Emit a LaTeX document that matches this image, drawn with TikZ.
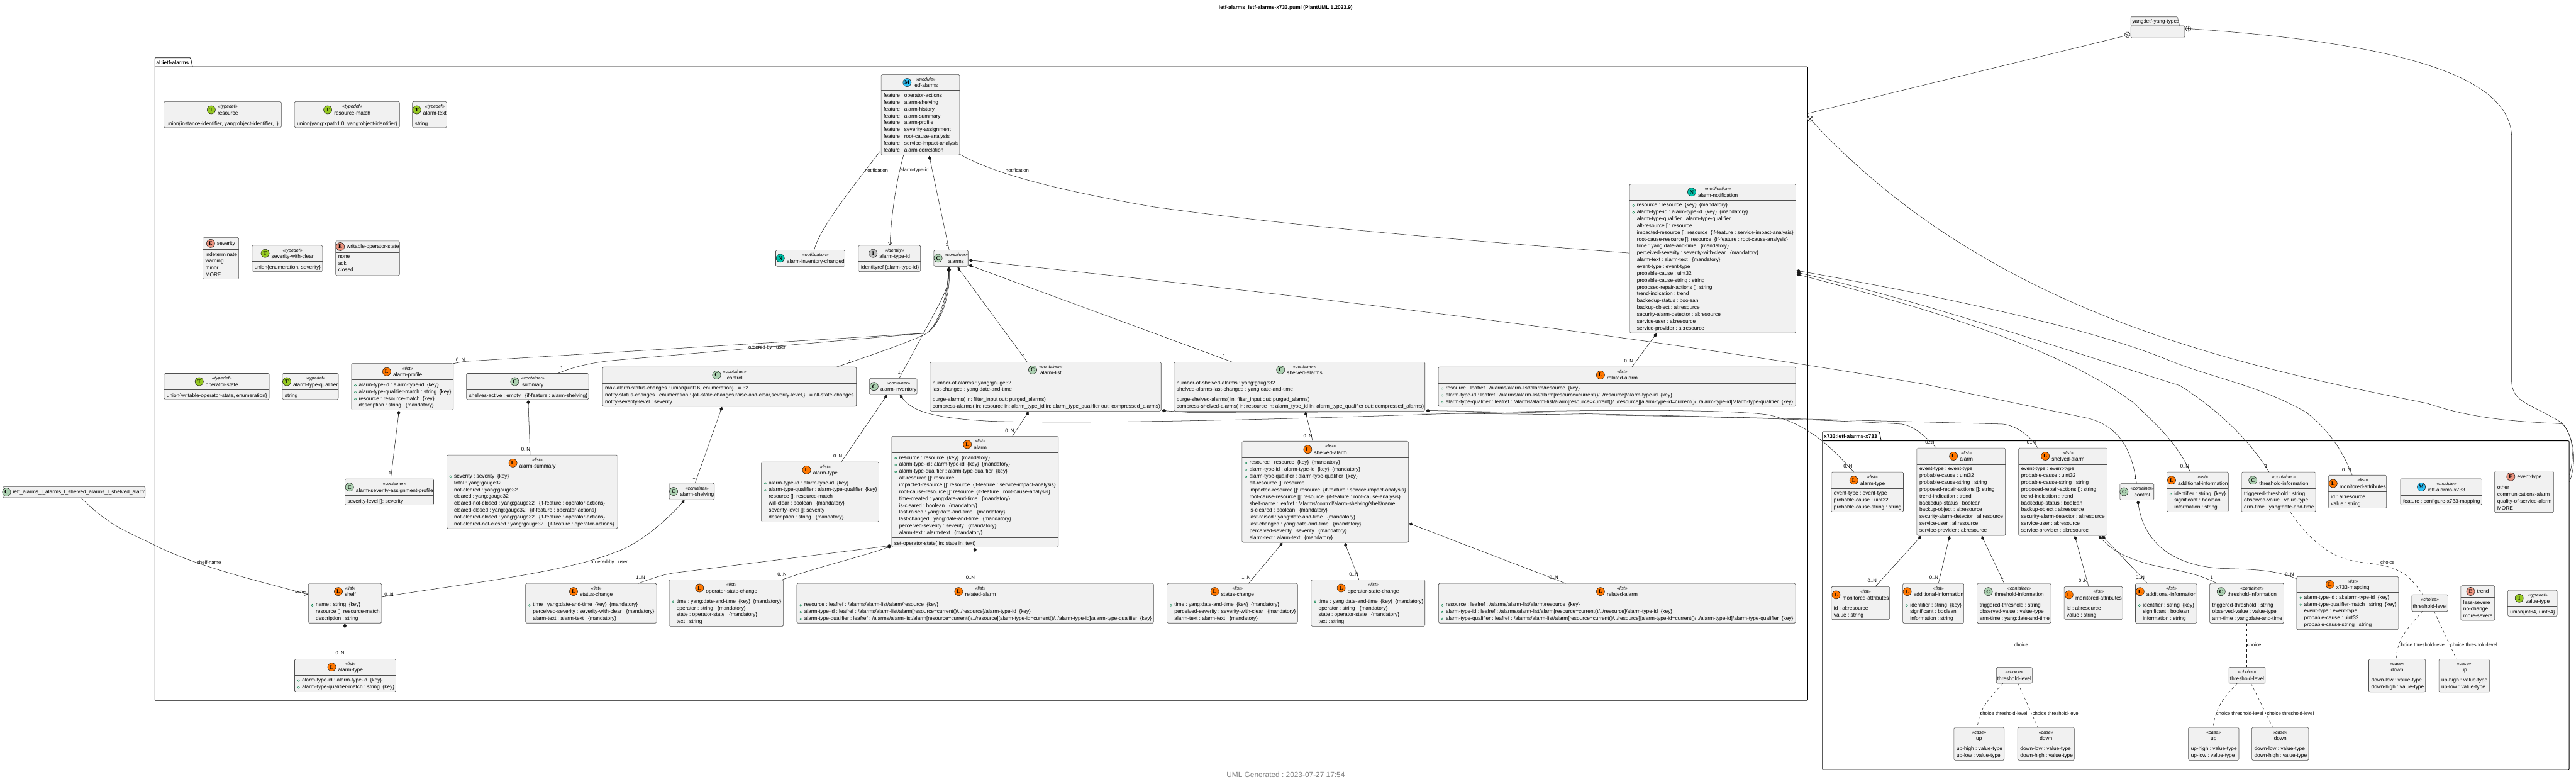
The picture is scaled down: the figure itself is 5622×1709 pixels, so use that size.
\documentclass[tikz,border=0pt]{standalone}
\usepackage{fontspec}
\usetikzlibrary{arrows.meta}
\setmainfont{Liberation Sans}
\newfontfamily\monofam{Liberation Serif}
\frenchspacing
\newcommand\nmf{\fontsize{11.4}{14.9}\selectfont}
\newcommand\stf{\fontsize{9.8}{12}\selectfont\itshape}
\newcommand\monof{\fontsize{12}{12}\selectfont\monofam\bfseries}
\definecolor{boxfill}{HTML}{F1F1F1}
\definecolor{edgec}{HTML}{181818}
\definecolor{bordc}{HTML}{505050}
\definecolor{keyg}{HTML}{038048}
\definecolor{icM}{HTML}{2FC3F8}
\definecolor{icE}{HTML}{EB937F}
\definecolor{icT}{HTML}{95C822}
\definecolor{icC}{HTML}{ADD1B2}
\definecolor{icL}{HTML}{FF7700}
\definecolor{icN}{HTML}{00C4AC}
\definecolor{icI}{HTML}{C0C0C0}
\newcounter{lbc}
\tikzset{
 cbox/.style={rectangle,draw=bordc,fill=boxfill,rounded corners=2.5pt,inner sep=0pt,line width=.8pt},
 divl/.style={draw=bordc,line width=.7pt},
 iconn/.style={circle,draw=edgec,line width=.7pt,minimum size=18pt,inner sep=0pt},
 nm/.style={anchor=base,inner sep=0pt,font=\nmf},
 st/.style={anchor=base,inner sep=0pt,font=\stf},
 memb/.style={anchor=north west,inner sep=0pt,align=left,font=\nmf,yshift=5.8pt,execute at begin node=\strut},
 keyc/.style={draw=keyg,line width=.6pt},
 conn/.style={draw=edgec,line width=.7pt,line join=round},
 comp/.style={conn,{Diamond[length=10pt,width=7pt]}-},
 arr/.style={conn,-{Straight Barb[length=6pt,width=8pt]}},
 dsh/.style={conn,dash pattern=on 5.7pt off 5.7pt},
 lbl/.style={inner sep=0pt,font=\fontsize{10.6}{12}\selectfont},
 pkgf/.style={rectangle,draw=black,line width=1.1pt,inner sep=0pt,rounded corners=1.5pt},
 pkgl/.style={anchor=base west,inner sep=0pt,font=\fontsize{11.4}{12}\selectfont\bfseries},
}
\newcommand\storec[3]{\expandafter\xdef\csname cx@#1\endcsname{#2}\expandafter\xdef\csname cy@#1\endcsname{#3}}
\newcommand\cls[9]{%
 \def\lid{#1}\def\lx{#2}%
 \pgfmathsetmacro\cw{#4-#2}\pgfmathsetmacro\chh{#5-#3}\pgfmathsetmacro\ccx{(#2+#4)/2}\pgfmathsetmacro\ccy{(#3+#5)/2}%
 \storec{#1}{\ccx}{\ccy}%
 \node[cbox,minimum width=\cw pt,minimum height=\chh pt] (#1) at (\ccx,\ccy) {};%
 \ifx\relax#6\relax \def\ldiv{#5}\else \def\ldiv{#6}\draw[divl] (#2,#6) -- (#4,#6);\fi
 \pgfmathsetmacro\hcy{(#3+\ldiv)/2}%
 \setbox0=\hbox{\pgfinterruptpicture\nmf #9\endpgfinterruptpicture}\setbox2=\hbox{\pgfinterruptpicture\stf #8\endpgfinterruptpicture}%
 \ifdim\wd0>\wd2 \dimen0=\wd0 \else \dimen0=\wd2 \fi
 \edef\twp{\the\dimen0}\pgfmathsetmacro\tw{\twp}%
 \ifx\relax#7\relax \edef\tcx{\ccx}\else
   \pgfmathsetmacro\icx{\ccx-(\tw+23)/2+9}\pgfmathsetmacro\tcx{\icx+14+\tw/2}%
   \node[iconn,fill=ic#7] (#1-i) at (\icx,\hcy) {\monof #7};\fi
 \ifx\relax#8\relax \node[nm] (#1-n) at (\tcx,\hcy+3.9) {#9};\else
   \node[st] (#1-s) at (\tcx,\hcy-3.5) {#8};\node[nm] (#1-n) at (\tcx,\hcy+10.7) {#9};\fi
}
\newcommand\mem[1]{\node[memb] (\lid-m) at (\lx+5.5,\ldiv+12) {#1};}
\newcommand\kmem[2]{\node[memb] (\lid-m) at (\lx+16,\ldiv+12) {#2};%
 \foreach \k in {1,...,#1}{\draw[keyc] ({\lx+8.5},{\ldiv+12+(\k-1)*14.9}) circle[radius=2.2pt];}}
\newcommand\meth[3]{\draw[divl] (\lx,#1) -- (#2,#1);\node[memb] (\lid-f) at (\lx+5.5,#1+12) {#3};}
\newcommand\lab[3]{\stepcounter{lbc}\node[lbl] (lb\arabic{lbc}) at (#1,#2) {#3};}
\newcommand\pts[6]{%
 \coordinate (S) at ([shift={({#2-\csname cx@#1\endcsname},{#3-\csname cy@#1\endcsname})}]#1.center);%
 \coordinate (T) at ([shift={({#5-\csname cx@#4\endcsname},{#6-\csname cy@#4\endcsname})}]#4.center);}
\newcommand\cmp[6]{\pts{#1}{#2}{#3}{#4}{#5}{#6}\draw[comp] (S) -- (T);}
\newcommand\pkg[8]{%
 \pgfmathsetmacro\cw{#5-#2}\pgfmathsetmacro\chh{#6-#4}\pgfmathsetmacro\ccx{(#2+#5)/2}\pgfmathsetmacro\ccy{(#4+#6)/2}%
 \storec{#1}{\ccx}{\ccy}%
 \node[pkgf,minimum width=\cw pt,minimum height=\chh pt] (#1) at (\ccx,\ccy) {};%
 \draw[draw=black,line width=1.1pt,rounded corners=1.5pt] (#2,#4) -- (#2,#3) -- (#7-4,#3) -- (#7,#4);%
 \node[pkgl] (#1-l) at (#2+3,#4-5.5) {#8};}
\newcommand\ccross[4]{\storec{#1}{#2}{#3}%
 \node[circle,draw=edgec,fill=white,line width=.7pt,minimum size=12pt,inner sep=0pt,rotate=#4] (#1) at (#2,#3) {};%
 \draw[conn] (#1.north) -- (#1.south) (#1.east) -- (#1.west);}
\begin{document}
\begin{tikzpicture}[x=1pt,y=-1pt]
\useasboundingbox (0,0) rectangle (5622,1709);
\fill[white] (0,0) rectangle (5622,1709);
\node[inner sep=0pt,font=\fontsize{11.4}{12}\selectfont\bfseries] (title) at (2806,16.5) {ietf-alarms\_ietf-alarms-x733.puml (PlantUML 1.2023.9)};
\node[inner sep=0pt,text=black!50,font=\fontsize{16.3}{18}\selectfont] (footer) at (2806,1690) {UML Generated : 2023-07-27 17:54};

\pkg{alp}{338}{126}{145.5}{3945.5}{1528}{420}{al:ietf-alarms}
\pkg{xp}{3977.4}{941.7}{961.6}{5607}{1678.5}{4105.6}{x733:ietf-alarms-x733}
% yang package
\storec{yangp}{4709.25}{69.5}
\node[cbox,minimum width=117.5pt,minimum height=26.4pt] (yangp) at (4709.25,69.5) {};
\draw[draw=bordc,fill=boxfill,line width=.8pt,rounded corners=1.5pt] (4650.5,56.3) -- (4650.5,36.7) -- (4752,36.7) -- (4757,56.3) -- cycle;
\node[inner sep=0pt,font=\nmf] (yangp-l) at (4705,46.7) {yang:ietf-yang-types};

% ---------- al:ietf-alarms classes
\cls{res}{357.4}{221.4}{614}{278.6}{257.6}{T}{«typedef»}{resource}
\mem{union\{instance-identifier, yang:object-identifier,..\}}
\cls{resm}{642.6}{221.4}{872}{278.6}{257.6}{T}{«typedef»}{resource-match}
\mem{union\{yang:xpath1.0, yang:object-identifier\}}
\cls{atxt}{900}{221.4}{975}{278.6}{257.6}{T}{«typedef»}{alarm-text}
\mem{string}
\cls{sev}{442.6}{518}{521}{609}{544}{E}{}{severity}
\mem{indeterminate\\warning\\minor\\MORE}
\cls{swc}{550}{535}{704}{592.4}{570.5}{T}{«typedef»}{severity-with-clear}
\mem{union\{enumeration, severity\}}
\cls{wos}{732.5}{525.4}{872}{601}{550.5}{E}{}{writable-operator-state}
\mem{none\\ack\\closed}
\cls{ietf}{1923}{162.5}{2094.5}{338.4}{197.3}{M}{«module»}{ietf-alarms}
\mem{feature : operator-actions\\feature : alarm-shelving\\feature : alarm-history\\feature : alarm-summary\\feature : alarm-profile\\feature : severity-assignment\\feature : root-cause-analysis\\feature : service-impact-analysis\\feature : alarm-correlation}
\cls{aic}{1693}{545.5}{1844}{581}{}{N}{«notification»}{alarm-inventory-changed}
\cls{atid}{1873.4}{535}{2009}{592.4}{570.5}{I}{«identity»}{alarm-type-id}
\mem{identityref \{alarm-type-id\}}
\cls{alarms}{2038}{545.5}{2112.7}{581}{}{C}{«container»}{alarms}
\cls{anot}{3556.5}{401.3}{3919.4}{726.3}{436.6}{N}{«notification»}{alarm-notification}
\kmem{2}{resource : resource\ \ \{key\}\ \ \{mandatory\}\\alarm-type-id : alarm-type-id\ \ \{key\}\ \ \{mandatory\}\\alarm-type-qualifier : alarm-type-qualifier\\alt-resource []: resource\\impacted-resource []: resource\ \ \{if-feature : service-impact-analysis\}\\root-cause-resource []: resource\ \ \{if-feature : root-cause-analysis\}\\time : yang:date-and-time\ \ \ \{mandatory\}\\perceived-severity : severity-with-clear\ \ \ \{mandatory\}\\alarm-text : alarm-text\ \ \ \{mandatory\}\\event-type : event-type\\probable-cause : uint32\\probable-cause-string : string\\proposed-repair-actions []: string\\trend-indication : trend\\backedup-status : boolean\\backup-object : al:resource\\security-alarm-detector : al:resource\\service-user : al:resource\\service-provider : al:resource}
\cls{rel1}{3139}{800.5}{3919}{886.6}{835.6}{L}{«list»}{related-alarm}
\kmem{3}{resource : leafref : /alarms/alarm-list/alarm/resource\ \ \{key\}\\alarm-type-id : leafref : /alarms/alarm-list/alarm[resource=current()/../resource]/alarm-type-id\ \ \{key\}\\alarm-type-qualifier : leafref : /alarms/alarm-list/alarm[resource=current()/../resource][alarm-type-id=current()/../alarm-type-id]/alarm-type-qualifier\ \ \{key\}}
\cls{opst}{358}{814.6}{587.5}{871.3}{850.3}{T}{«typedef»}{operator-state}
\mem{union\{writable-operator-state, enumeration\}}
\cls{atq}{616}{814.6}{738.4}{871.3}{850.3}{T}{«typedef»}{alarm-type-qualifier}
\mem{string}
\cls{prof}{767}{792.9}{989.3}{894.3}{828.6}{L}{«list»}{alarm-profile}
\kmem{3}{alarm-type-id : alarm-type-id\ \ \{key\}\\alarm-type-qualifier-match : string\ \ \{key\}\\resource : resource-match\ \ \{key\}\\description : string\ \ \ \{mandatory\}}
\cls{summ}{1017.9}{814.6}{1284.8}{871.3}{850.3}{C}{«container»}{summary}
\mem{shelves-active : empty\ \ \ \{if-feature : alarm-shelving\}}
\cls{asap}{752.7}{1044.8}{946.4}{1101.6}{1080.5}{C}{«container»}{alarm-severity-assignment-profile}
\mem{severity-level []: severity}
\cls{asum}{975}{992.5}{1348}{1153}{1027.6}{L}{«list»}{alarm-summary}
\kmem{1}{severity : severity\ \ \{key\}\\total : yang:gauge32\\not-cleared : yang:gauge32\\cleared : yang:gauge32\\cleared-not-closed : yang:gauge32\ \ \ \{if-feature : operator-actions\}\\cleared-closed : yang:gauge32\ \ \ \{if-feature : operator-actions\}\\not-cleared-closed : yang:gauge32\ \ \ \{if-feature : operator-actions\}\\not-cleared-not-closed : yang:gauge32\ \ \ \{if-feature : operator-actions\}}
\cls{shc}{6}{1061.4}{317}{1085.6}{}{C}{}{ietf\_alarms\_l\_alarms\_l\_shelved\_alarms\_l\_shelved\_alarm}
\cls{shelf}{673}{1272.5}{833}{1359.2}{1308.2}{L}{«list»}{shelf}
\kmem{1}{name : string\ \ \{key\}\\resource []: resource-match\\description : string}
\cls{sat}{643}{1437.6}{864}{1509}{1472.7}{L}{«list»}{alarm-type}
\kmem{2}{alarm-type-id : alarm-type-id\ \ \{key\}\\alarm-type-qualifier-match : string\ \ \{key\}}
\cls{sc1}{1147}{1272.5}{1433}{1359.2}{1308.2}{L}{«list»}{status-change}
\kmem{1}{time : yang:date-and-time\ \ \{key\}\ \ \{mandatory\}\\perceived-severity : severity-with-clear\ \ \ \{mandatory\}\\alarm-text : alarm-text\ \ \ \{mandatory\}}
\cls{ctl}{1315}{800.5}{1869}{886.6}{835.6}{C}{«container»}{control}
\mem{max-alarm-status-changes : union\{uint16, enumeration\}\ \ \ = 32\\notify-status-changes : enumeration : \{all-state-changes,raise-and-clear,severity-level,\}\ \ \ = all-state-changes\\notify-severity-level : severity}
\cls{ainv}{1897.3}{825.4}{2001.4}{860.5}{}{C}{«container»}{alarm-inventory}
\cls{ashv}{1460.4}{1054}{1559}{1090}{}{C}{«container»}{alarm-shelving}
\cls{iat}{1661.7}{1007.8}{1918}{1138.5}{1042.2}{L}{«list»}{alarm-type}
\kmem{2}{alarm-type-id : alarm-type-id\ \ \{key\}\\alarm-type-qualifier : alarm-type-qualifier\ \ \{key\}\\resource []: resource-match\\will-clear : boolean\ \ \ \{mandatory\}\\severity-level []: severity\\description : string\ \ \ \{mandatory\}}
\cls{alist}{2029.7}{789.7}{2534}{896.8}{824}{C}{«container»}{alarm-list}
\mem{number-of-alarms : yang:gauge32\\last-changed : yang:date-and-time}
\meth{861}{2534}{purge-alarms( in: filter\_input out: purged\_alarms)\\compress-alarms( in: resource in: alarm\_type\_id in: alarm\_type\_qualifier out: compressed\_alarms)}
\cls{alarm}{1946.3}{951.7}{2309.7}{1193.4}{987.4}{L}{«list»}{alarm}
\kmem{3}{resource : resource\ \ \{key\}\ \ \{mandatory\}\\alarm-type-id : alarm-type-id\ \ \{key\}\ \ \{mandatory\}\\alarm-type-qualifier : alarm-type-qualifier\ \ \{key\}\\alt-resource []: resource\\impacted-resource []: resource\ \ \{if-feature : service-impact-analysis\}\\root-cause-resource []: resource\ \ \{if-feature : root-cause-analysis\}\\time-created : yang:date-and-time\ \ \ \{mandatory\}\\is-cleared : boolean\ \ \ \{mandatory\}\\last-raised : yang:date-and-time\ \ \ \{mandatory\}\\last-changed : yang:date-and-time\ \ \ \{mandatory\}\\perceived-severity : severity\ \ \ \{mandatory\}\\alarm-text : alarm-text\ \ \ \{mandatory\}}
\meth{1172.3}{2309.7}{set-operator-state( in: state in: text)}
\cls{osc1}{1460.4}{1264.8}{1709.9}{1366.2}{1300.5}{L}{«list»}{operator-state-change}
\kmem{1}{time : yang:date-and-time\ \ \{key\}\ \ \{mandatory\}\\operator : string\ \ \ \{mandatory\}\\state : operator-state\ \ \ \{mandatory\}\\text : string}
\cls{rel2}{1739}{1272.5}{2517.8}{1359.2}{1308.2}{L}{«list»}{related-alarm}
\kmem{3}{resource : leafref : /alarms/alarm-list/alarm/resource\ \ \{key\}\\alarm-type-id : leafref : /alarms/alarm-list/alarm[resource=current()/../resource]/alarm-type-id\ \ \{key\}\\alarm-type-qualifier : leafref : /alarms/alarm-list/alarm[resource=current()/../resource][alarm-type-id=current()/../alarm-type-id]/alarm-type-qualifier\ \ \{key\}}
\cls{shas}{2562.2}{789.7}{3109.8}{896.8}{824}{C}{«container»}{shelved-alarms}
\mem{number-of-shelved-alarms : yang:gauge32\\shelved-alarms-last-changed : yang:date-and-time}
\meth{861}{3109.8}{purge-shelved-alarms( in: filter\_input out: purged\_alarms)\\compress-shelved-alarms( in: resource in: alarm\_type\_id in: alarm\_type\_qualifier out: compressed\_alarms)}
\cls{sha}{2710.7}{962.5}{3074}{1183.2}{998.2}{L}{«list»}{shelved-alarm}
\kmem{3}{resource : resource\ \ \{key\}\ \ \{mandatory\}\\alarm-type-id : alarm-type-id\ \ \{key\}\ \ \{mandatory\}\\alarm-type-qualifier : alarm-type-qualifier\ \ \{key\}\\alt-resource []: resource\\impacted-resource []: resource\ \ \{if-feature : service-impact-analysis\}\\root-cause-resource []: resource\ \ \{if-feature : root-cause-analysis\}\\shelf-name : leafref : /alarms/control/alarm-shelving/shelf/name\\is-cleared : boolean\ \ \ \{mandatory\}\\last-raised : yang:date-and-time\ \ \ \{mandatory\}\\last-changed : yang:date-and-time\ \ \ \{mandatory\}\\perceived-severity : severity\ \ \ \{mandatory\}\\alarm-text : alarm-text\ \ \ \{mandatory\}}
\cls{sc2}{2547}{1272.5}{2832}{1359.2}{1308.2}{L}{«list»}{status-change}
\kmem{1}{time : yang:date-and-time\ \ \{key\}\ \ \{mandatory\}\\perceived-severity : severity-with-clear\ \ \ \{mandatory\}\\alarm-text : alarm-text\ \ \ \{mandatory\}}
\cls{osc2}{2861.6}{1264.8}{3109.8}{1366.2}{1300.5}{L}{«list»}{operator-state-change}
\kmem{1}{time : yang:date-and-time\ \ \{key\}\ \ \{mandatory\}\\operator : string\ \ \ \{mandatory\}\\state : operator-state\ \ \ \{mandatory\}\\text : string}
\cls{rel3}{3139.3}{1272.5}{3918.8}{1359.2}{1308.2}{L}{«list»}{related-alarm}
\kmem{3}{resource : leafref : /alarms/alarm-list/alarm/resource\ \ \{key\}\\alarm-type-id : leafref : /alarms/alarm-list/alarm[resource=current()/../resource]/alarm-type-id\ \ \{key\}\\alarm-type-qualifier : leafref : /alarms/alarm-list/alarm[resource=current()/../resource][alarm-type-id=current()/../alarm-type-id]/alarm-type-qualifier\ \ \{key\}}

% ---------- x733 classes
\cls{xat}{3996.6}{1029.5}{4154}{1116.7}{1065.7}{L}{«list»}{alarm-type}
\mem{event-type : event-type\\probable-cause : uint32\\probable-cause-string : string}
\cls{xal}{4183.4}{977.4}{4376.7}{1168.3}{1012.7}{L}{«list»}{alarm}
\mem{event-type : event-type\\probable-cause : uint32\\probable-cause-string : string\\proposed-repair-actions []: string\\trend-indication : trend\\backedup-status : boolean\\backup-object : al:resource\\security-alarm-detector : al:resource\\service-user : al:resource\\service-provider : al:resource}
\cls{xsh}{4405.4}{977.4}{4598.6}{1168.3}{1012.7}{L}{«list»}{shelved-alarm}
\mem{event-type : event-type\\probable-cause : uint32\\probable-cause-string : string\\proposed-repair-actions []: string\\trend-indication : trend\\backedup-status : boolean\\backup-object : al:resource\\security-alarm-detector : al:resource\\service-user : al:resource\\service-provider : al:resource}
\cls{xctl}{4626.7}{1054.5}{4700.6}{1090.7}{}{C}{«container»}{control}
\cls{xadd}{4729.3}{1029.5}{4863.3}{1116.7}{1065.7}{L}{«list»}{additional-information}
\kmem{1}{identifier : string\ \ \{key\}\\significant : boolean\\information : string}
\cls{xthr}{4891.8}{1029.5}{5053.8}{1116.7}{1065.7}{C}{«container»}{threshold-information}
\mem{triggered-threshold : string\\observed-value : value-type\\arm-time : yang:date-and-time}
\cls{xmon}{5081.6}{1036.6}{5208.5}{1108.6}{1072.9}{L}{«list»}{monitored-attributes}
\mem{id : al:resource\\value : string}
\cls{xmod}{5238.9}{1044.3}{5416.7}{1101.4}{1080.5}{M}{«module»}{ietf-alarms-x733}
\mem{feature : configure-x733-mapping}
\cls{xev}{5444.5}{1027.4}{5573}{1118.3}{1052.4}{E}{}{event-type}
\mem{other\\communications-alarm\\quality-of-service-alarm\\MORE}
\cls{xmap}{5012.4}{1257.6}{5234.7}{1373.4}{1292.2}{L}{«list»}{x733-mapping}
\kmem{2}{alarm-type-id : al:alarm-type-id\ \ \{key\}\\alarm-type-qualifier-match : string\ \ \{key\}\\event-type : event-type\\probable-cause : uint32\\probable-cause-string : string}
\cls{xlv3}{5263.6}{1297.3}{5342.7}{1333.6}{}{}{«choice»}{threshold-level}
\cls{xtr}{5370.5}{1277.4}{5444.5}{1353.5}{1303}{E}{}{trend}
\mem{less-severe\\no-change\\more-severe}
\cls{xvt}{5472.8}{1287.7}{5580.8}{1344.3}{1322.3}{T}{«typedef»}{value-type}
\mem{union\{int64, uint64\}}
\cls{xdn3}{5169.7}{1437.7}{5293.5}{1509.6}{1472.3}{}{«case»}{down}
\mem{down-low : value-type\\down-high : value-type}
\cls{xup3}{5322.8}{1437.7}{5433}{1509.6}{1472.3}{}{«case»}{up}
\mem{up-high : value-type\\up-low : value-type}
\cls{xthr2}{4822.5}{1272.3}{4984.6}{1359.6}{1308.6}{C}{«container»}{threshold-information}
\mem{triggered-threshold : string\\observed-value : value-type\\arm-time : yang:date-and-time}
\cls{xlv2}{4864.5}{1455.5}{4943.7}{1490.7}{}{}{«choice»}{threshold-level}
\cls{xup2}{4775.9}{1586.6}{4886.2}{1658.6}{1622.3}{}{«case»}{up}
\mem{up-high : value-type\\up-low : value-type}
\cls{xdn2}{4914.3}{1586.6}{5038.6}{1658.6}{1622.3}{}{«case»}{down}
\mem{down-low : value-type\\down-high : value-type}
\cls{xmon1}{3996.6}{1279.5}{4124}{1351.4}{1315.7}{L}{«list»}{monitored-attributes}
\mem{id : al:resource\\value : string}
\cls{xadd1}{4152.8}{1272.3}{4286}{1359.6}{1308.6}{L}{«list»}{additional-information}
\kmem{1}{identifier : string\ \ \{key\}\\significant : boolean\\information : string}
\cls{xthr1}{4314.8}{1272.3}{4476}{1359.6}{1308.6}{C}{«container»}{threshold-information}
\mem{triggered-threshold : string\\observed-value : value-type\\arm-time : yang:date-and-time}
\cls{xmon2}{4504.8}{1279.5}{4632.4}{1351.4}{1315.7}{L}{«list»}{monitored-attributes}
\mem{id : al:resource\\value : string}
\cls{xadd2}{4660.5}{1272.3}{4794.4}{1359.6}{1308.6}{L}{«list»}{additional-information}
\kmem{1}{identifier : string\ \ \{key\}\\significant : boolean\\information : string}
\cls{xlv1}{4356.9}{1455.5}{4435.3}{1490.7}{}{}{«choice»}{threshold-level}
\cls{xup1}{4264.4}{1586.6}{4374}{1658.6}{1622.3}{}{«case»}{up}
\mem{up-high : value-type\\up-low : value-type}
\cls{xdn1}{4403.5}{1586.6}{4527}{1658.6}{1622.3}{}{«case»}{down}
\mem{down-low : value-type\\down-high : value-type}

% ---------- package links
\ccross{ccl}{4643}{75.8}{-24}
\ccross{ccr}{4775.8}{62.6}{5}
\ccross{cca}{3950.5}{259}{45}
\pts{alp}{3946}{247.4}{ccl}{4637.5}{78.3}\draw[conn] (S) -- (T);
\pts{ccr}{4782}{62.9}{xp}{5607.6}{1051}
\draw[conn] (S) .. controls (5250,95) and (5481.5,170) .. (5481.5,300) -- (5481.5,830) .. controls (5481.5,880) and (5525,880) .. (5592,923) .. controls (5625,965) and (5620,1020) .. (T);
\pts{cca}{3954.5}{264}{xp}{5607.6}{1035.6}
\draw[conn] (S) .. controls (4350,690) and (4900,800) .. (5298,880) .. controls (5400,915) and (5500,920) .. (5592,924.4) .. controls (5618,950) and (5618,1000) .. (T);

% ---------- module links
\pts{ietf}{1921}{329.5}{aic}{1776.8}{545.5}\draw[conn] (S) .. controls (1860,410) and (1790,495) .. (T);
\lab{1912.7}{371}{notification}
\pts{ietf}{1972}{338.4}{atid}{1942.3}{535}\draw[arr] (S) .. controls (1955,400) and (1945,470) .. (T);
\lab{1996}{371}{alarm-type-id}
\cmp{ietf}{2028}{340}{alarms}{2071.5}{545.5}
\lab{2066.7}{533.5}{1}
\pts{ietf}{2095.4}{337}{anot}{3556.5}{552}\draw[conn] (S) .. controls (2180,385) and (2340,420) .. (2515.5,451) .. controls (2800,490) and (3100,517) .. (T);
\lab{2220}{371}{notification}

% ---------- alarms children
\pts{alarms}{2070}{583}{prof}{989}{793}\draw[comp] (S) .. controls (2068,640) and (2052,700) .. (2023.7,726.5) -- (1013.4,788.4) -- (T);
\lab{1005}{784.6}{0..N}
\lab{1674}{759}{ordered-by : user}
\pts{alarms}{2070}{583}{summ}{1217}{814.6}\draw[comp] (S) .. controls (2071,640) and (2055,700) .. (2023.7,726.5) -- (1340,786) .. controls (1300,790) and (1260,797) .. (T);
\lab{1226}{803}{1}
\pts{alarms}{2072}{583}{ctl}{1826}{800.5}\draw[comp] (S) .. controls (2073,640) and (2058,700) .. (2023.7,726.5) .. controls (1990,745) and (1900,775) .. (T);
\lab{1855}{788.4}{1}
\pts{alarms}{2070}{583}{ainv}{1962.4}{825.4}\draw[comp] (S) .. controls (2072,620) and (2062,640) .. (2041,680) -- (T);
\lab{1962.4}{812.7}{1}
\cmp{alarms}{2090}{583}{alist}{2241.8}{789.7}
\lab{2234.8}{777}{1}
\cmp{alarms}{2114}{578}{shas}{2689.3}{789.7}
\lab{2671.4}{777}{1}
\pts{alarms}{2114}{567.5}{xctl}{4663}{1054.5}\draw[comp] (S) .. controls (2800,640) and (3500,720) .. (4200,838) -- (4560,913) .. controls (4610,928) and (4650,960) .. (T);
\lab{4660}{1041}{1}

\cmp{prof}{870.9}{895.5}{asap}{852.7}{1044.8}
\lab{851}{1032}{1}
\cmp{summ}{1152.6}{872.5}{asum}{1157}{992.5}
\lab{1147.3}{980.4}{0..N}
\cmp{ctl}{1575.8}{887.5}{ashv}{1517}{1054}
\lab{1514.8}{1042}{1}
\pts{ashv}{1494}{1091}{shelf}{833}{1302.5}\draw[comp] (S) .. controls (1450,1140) and (1390,1190) .. (1339,1206) .. controls (1230,1250) and (1000,1275) .. (T);
\lab{1329.5}{1227}{ordered-by : user}
\lab{849}{1296.7}{0..N}
\pts{shc}{176.8}{1085.6}{shelf}{672}{1297}\draw[arr] (S) .. controls (240,1150) and (290,1165) .. (339,1190) .. controls (440,1240) and (570,1268) .. (T);
\lab{456}{1227}{shelf-name}
\lab{653.6}{1291.6}{name}
\cmp{shelf}{752.7}{1360.3}{sat}{752.7}{1437.6}
\lab{742}{1425}{0..N}
\cmp{ainv}{1936}{861.5}{iat}{1836}{1007.8}
\lab{1828.5}{995}{0..N}
\pts{ainv}{1964}{861.5}{xat}{4045.7}{1029.5}\draw[comp] (S) .. controls (1990,895) and (2030,912) .. (2165,919) .. controls (2400,925) and (2800,915) .. (3225,900) .. controls (3500,893) and (3780,893) .. (3860,905) .. controls (3950,925) and (4000,980) .. (T);
\lab{4033}{1017}{0..N}
\cmp{alist}{2245}{898}{alarm}{2209.5}{951.7}
\lab{2203.4}{939.6}{0..N}
\pts{alist}{2535.5}{895.5}{xal}{4226}{977.4}\draw[comp] (S) -- (2600,900) .. controls (3200,900) and (3800,905) .. (4150,925) .. controls (4180,930) and (4205,955) .. (T);
\lab{4211.5}{965}{0..N}
\cmp{shas}{2849}{898}{sha}{2865}{962.5}
\lab{2854.5}{950.4}{0..N}
\pts{shas}{3111.5}{895.5}{xsh}{4447.5}{977.4}\draw[comp] (S) .. controls (3400,900) and (3900,913) .. (4370,925) .. controls (4400,928) and (4430,950) .. (T);
\lab{4433.4}{965}{0..N}
\pts{alarm}{1945.5}{1190}{sc1}{1393}{1272.5}\draw[comp] (S) -- (1470,1250) .. controls (1440,1255) and (1420,1263) .. (T);
\lab{1398}{1260}{1..N}
\pts{alarm}{1945.5}{1191}{osc1}{1706}{1264.8}\draw[comp] (S) .. controls (1880,1215) and (1800,1232) .. (T);
\lab{1706.8}{1252.7}{0..N}
\cmp{alarm}{2127.8}{1194.4}{rel2}{2127.8}{1272.5}
\lab{2117.7}{1260.3}{0..N}
\cmp{sha}{2799}{1184}{sc2}{2725}{1272.5}
\lab{2719.6}{1260.3}{1..N}
\cmp{sha}{2935}{1184}{osc2}{2966}{1264.8}
\lab{2954.5}{1252.7}{0..N}
\cmp{sha}{3075}{1141.5}{rel3}{3417}{1272.5}
\lab{3391}{1260.3}{0..N}
\cmp{anot}{3615.5}{727.3}{rel1}{3561.6}{800.5}
\lab{3554.6}{788}{0..N}
\pts{anot}{3920.5}{590}{xmon}{5133.5}{1036.6}\draw[comp] (S) .. controls (4200,640) and (4550,710) .. (4735,786.5) .. controls (4830,825) and (4930,840) .. (5034,900) .. controls (5090,945) and (5115,990) .. (T);
\lab{5121.4}{1025}{0..N}
\pts{anot}{3920.5}{594}{xthr}{4952}{1029.5}\draw[comp] (S) .. controls (4170,650) and (4500,760) .. (4757,841) .. controls (4820,880) and (4900,945) .. (T);
\lab{4945.8}{1017}{1}
\pts{anot}{3920.5}{598}{xadd}{4780}{1029.5}\draw[comp] (S) .. controls (4200,670) and (4500,760) .. (4658,880) .. controls (4710,930) and (4750,965) .. (T);
\lab{4768}{1017}{0..N}
% ---------- x733 composition
\cmp{xal}{4193}{1169}{xmon1}{4092.9}{1279.5}
\lab{4085.8}{1267}{0..N}
\cmp{xal}{4255}{1169}{xadd1}{4230.6}{1272.3}
\lab{4220.4}{1260}{0..N}
\cmp{xal}{4325}{1169}{xthr1}{4374}{1272.3}
\lab{4369.6}{1260}{1}
\cmp{xsh}{4528}{1169}{xmon2}{4558.4}{1279.5}
\lab{4546.3}{1267}{0..N}
\cmp{xsh}{4588}{1169}{xadd2}{4686.6}{1272.3}
\lab{4670.7}{1260}{0..N}
\pts{xsh}{4580}{1169}{xthr2}{4838.4}{1272.3}\draw[comp] (S) .. controls (4615,1205) and (4640,1216) .. (4690,1231) .. controls (4750,1245) and (4790,1248) .. (T);
\lab{4827}{1260}{1}
\pts{xctl}{4665.5}{1091.5}{xmap}{5012.4}{1262.7}\draw[comp] (S) .. controls (4680,1190) and (4750,1235) .. (4850,1240) .. controls (4930,1242) and (4970,1245) .. (T);
\lab{4996.6}{1253}{0..N}
% ---------- choice links
\pts{xthr1}{4395}{1359.6}{xlv1}{4395}{1455.5}\draw[dsh] (S) -- (T);
\lab{4411}{1406.5}{choice}
\pts{xlv1}{4371}{1490.7}{xup1}{4315.4}{1586.6}\draw[dsh] (S) .. controls (4340,1525) and (4320,1545) .. (T);
\lab{4372.8}{1556.5}{choice threshold-level}
\pts{xlv1}{4404}{1490.7}{xdn1}{4447.5}{1586.6}\draw[dsh] (S) -- (T);
\lab{4487}{1556.5}{choice threshold-level}
\pts{xthr2}{4903.5}{1359.6}{xlv2}{4903.5}{1455.5}\draw[dsh] (S) -- (T);
\lab{4919.4}{1406.5}{choice}
\pts{xlv2}{4882.4}{1490.7}{xup2}{4830}{1586.6}\draw[dsh] (S) .. controls (4850,1525) and (4835,1545) .. (T);
\lab{4888}{1556.5}{choice threshold-level}
\pts{xlv2}{4912.7}{1490.7}{xdn2}{4960}{1586.6}\draw[dsh] (S) -- (T);
\lab{4998.7}{1556.5}{choice threshold-level}
\pts{xthr}{4998.2}{1116.7}{xlv3}{5287.7}{1297.3}\draw[dsh] (S) .. controls (5030,1165) and (5070,1200) .. (5104,1214) .. controls (5150,1232) and (5190,1225) .. (5230,1243) .. controls (5260,1255) and (5275,1280) .. (T);
\lab{5210.6}{1227}{choice}
\pts{xlv3}{5286.6}{1333.6}{xdn3}{5229.5}{1437.7}\draw[dsh] (S) .. controls (5250,1375) and (5232,1395) .. (T);
\lab{5286}{1407}{choice threshold-level}
\pts{xlv3}{5312.3}{1333.6}{xup3}{5361}{1437.7}\draw[dsh] (S) -- (T);
\lab{5398.9}{1407}{choice threshold-level}
\end{tikzpicture}
\end{document}
